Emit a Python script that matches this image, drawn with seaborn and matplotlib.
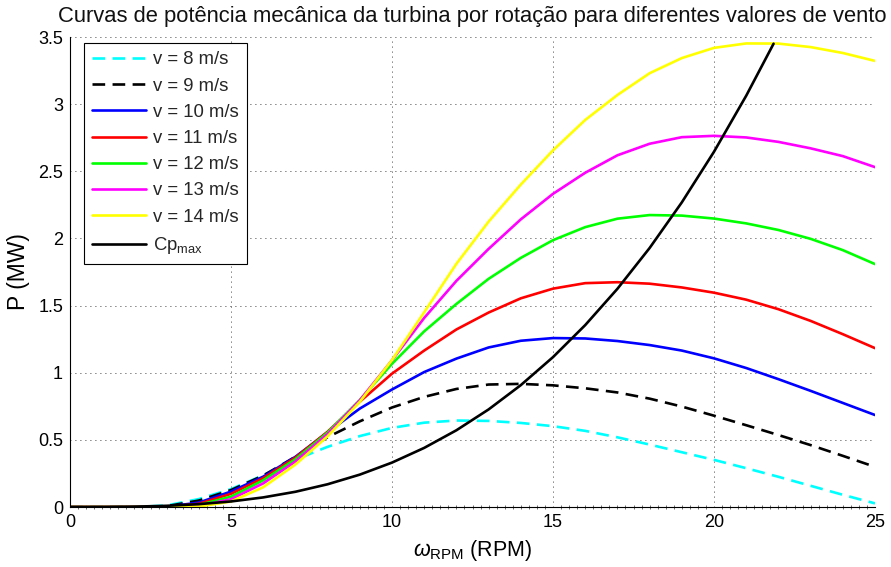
import matplotlib
matplotlib.use("Agg")
import matplotlib.pyplot as plt
import seaborn as sns
import numpy as np
from matplotlib.ticker import MultipleLocator

# ---- data ----
rpm = list(range(0, 26))
p_8 = [0, 0, 0, 0.011, 0.059, 0.133, 0.236, 0.353, 0.448, 0.528, 0.589, 0.628, 0.644, 0.641,
       0.626, 0.602, 0.567, 0.519, 0.465, 0.408, 0.351, 0.289, 0.225, 0.158, 0.091, 0.027]
p_9 = [0, 0, 0, 0.006, 0.048, 0.126, 0.234, 0.374, 0.520, 0.638, 0.741, 0.820, 0.879, 0.912,
       0.917, 0.906, 0.884, 0.853, 0.807, 0.748, 0.680, 0.609, 0.536, 0.461, 0.381, 0.299]
p_10 = [0, 0, 0, 0.002, 0.033, 0.115, 0.226, 0.374, 0.556, 0.733, 0.875, 1.005, 1.105, 1.188,
        1.238, 1.258, 1.255, 1.236, 1.206, 1.165, 1.107, 1.035, 0.952, 0.865, 0.775, 0.685]
p_11 = [0, 0, 0, 0.001, 0.024, 0.098, 0.215, 0.368, 0.561, 0.784, 0.993, 1.165, 1.322, 1.448,
        1.554, 1.626, 1.667, 1.674, 1.663, 1.635, 1.596, 1.544, 1.473, 1.386, 1.287, 1.183]
p_12 = [0, 0, 0, 0, 0.015, 0.077, 0.199, 0.356, 0.555, 0.797, 1.066, 1.308, 1.512, 1.699,
        1.855, 1.987, 2.084, 2.147, 2.174, 2.170, 2.148, 2.112, 2.063, 1.997, 1.913, 1.809]
p_13 = [0, 0, 0, 0, 0.008, 0.058, 0.176, 0.339, 0.543, 0.795, 1.093, 1.408, 1.684, 1.922,
        2.142, 2.332, 2.489, 2.619, 2.705, 2.754, 2.764, 2.752, 2.719, 2.671, 2.613, 2.531]
p_14 = [0, 0, 0, 0, 0.003, 0.041, 0.147, 0.316, 0.526, 0.783, 1.094, 1.450, 1.811, 2.125,
        2.401, 2.656, 2.882, 3.068, 3.230, 3.343, 3.419, 3.452, 3.451, 3.425, 3.381, 3.322]
rpm_cp = list(range(0, 22)) + [21.85]
p_cp = [0, 0.0003, 0.0026, 0.0089, 0.0212, 0.0413, 0.0714, 0.1134, 0.1693, 0.2411, 0.3307,
        0.4402, 0.5714, 0.7266, 0.9075, 1.1161, 1.3545, 1.6247, 1.9286, 2.2683, 2.6456,
        3.0626, 3.450]

labels = ["v = 8 m/s", "v = 9 m/s", "v = 10 m/s", "v = 11 m/s", "v = 12 m/s",
          "v = 13 m/s", "v = 14 m/s", r"Cp$_{\mathrm{max}}$"]

# ---- style ----
sns.set_theme(style="white")
plt.rcParams["font.family"] = ["Liberation Sans", "DejaVu Sans"]
plt.rcParams["mathtext.fontset"] = "custom"
plt.rcParams["mathtext.rm"] = "Liberation Sans"
plt.rcParams["mathtext.it"] = "Liberation Sans:italic"
plt.rcParams["mathtext.bf"] = "Liberation Sans:bold"

fig = plt.figure(figsize=(8.91, 5.67), dpi=100)
ax = fig.add_axes([70 / 891, 60 / 567, 805 / 891, 470 / 567])

series = [p_8, p_9, p_10, p_11, p_12, p_13, p_14]
colors = ["#00FFFF", "#000000", "#0000FF", "#FF0000", "#00FF00", "#FF00FF", "#FFFF00"]
dash = (0, (4.8, 2.8))
styles = [dash, dash, "-", "-", "-", "-", "-"]
lw = 1.9
for vals, c, ls, lab in zip(series, colors, styles, labels[:7]):
    sns.lineplot(x=rpm, y=vals, ax=ax, color=c, linewidth=lw, linestyle=ls,
                 label=lab, sort=False, estimator=None)
sns.lineplot(x=rpm_cp, y=p_cp, ax=ax, color="black", linewidth=lw, label=labels[7],
             sort=False, estimator=None)

ax.set_xlim(0, 25)
ax.set_ylim(0, 3.5)
ax.set_xticks([0, 5, 10, 15, 20, 25])
ax.set_yticks([0, 0.5, 1, 1.5, 2, 2.5, 3, 3.5])
ax.set_yticklabels(["0", "0.5", "1", "1.5", "2", "2.5", "3", "3.5"])
ax.xaxis.set_minor_locator(MultipleLocator(0.25))

for s in ["top", "right"]:
    ax.spines[s].set_visible(False)
for s in ["left", "bottom"]:
    ax.spines[s].set_color("black")
    ax.spines[s].set_linewidth(0.8)

ax.grid(True, which="major", color="black", linestyle=(0, (1, 5)), linewidth=0.6)
ax.tick_params(axis="both", which="major", direction="in", length=6, width=0.8,
               colors="black", labelsize=13, pad=5)
ax.tick_params(axis="x", which="minor", direction="inout", length=2.5, width=0.5,
               colors="#333333", bottom=True)

ax.set_title("Curvas de potência mecânica da turbina por rotação para diferentes valores de vento",
             fontsize=15.8, pad=11, color="#111111")
ax.set_ylabel("P (MW)", fontsize=16.5, labelpad=6, color="black")
ax.set_xlabel(r"$\omega_{\mathrm{RPM}}$ (RPM)", fontsize=15.5, labelpad=5, color="black")

leg = ax.legend(loc="upper left", bbox_to_anchor=(14 / 805, 1 - 6 / 470), fontsize=13.3,
                frameon=True, fancybox=False, shadow=False, framealpha=1,
                edgecolor="black", handlelength=2.9, labelspacing=0.5,
                borderpad=0.45, handletextpad=0.4, borderaxespad=0)
leg.get_frame().set_linewidth(0.8)

fig.savefig("out.png", dpi=100)
